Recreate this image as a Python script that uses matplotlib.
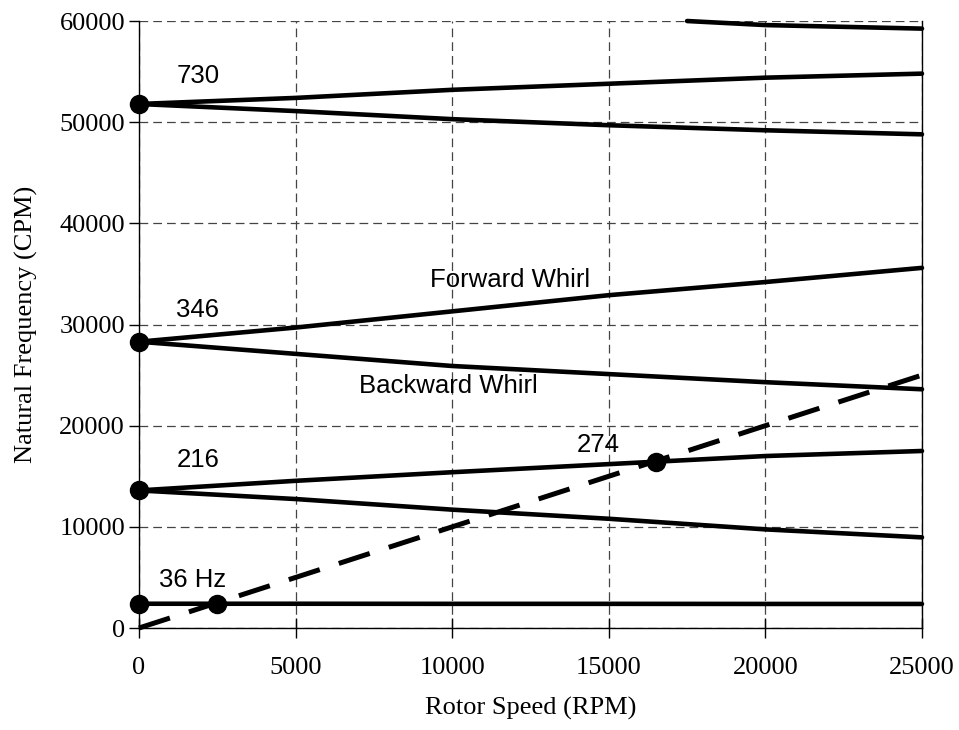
import numpy as np
import matplotlib.pyplot as plt

# rotor speed grid (RPM)
speed = [0, 5000, 10000, 15000, 20000, 25000]

# natural frequencies (CPM)
mode1 = [2400, 2400, 2390, 2390, 2380, 2380]
mode2_fw = [13600, 14550, 15400, 16200, 17000, 17500]
mode2_bw = [13600, 12750, 11700, 10800, 9750, 8960]
mode3_fw = [28300, 29700, 31300, 32900, 34200, 35600]
mode3_bw = [28300, 27100, 25900, 25100, 24300, 23600]
mode4_fw = [51800, 52400, 53200, 53800, 54400, 54800]
mode4_bw = [51800, 51100, 50300, 49700, 49200, 48800]
mode5_speed = [17500, 20000, 25000]
mode5 = [60000, 59600, 59250]

# 1x synchronous line
sync_speed = [0, 25000]
sync_freq = [0, 25000]

# critical points
crit_x = [0, 2500, 0, 16500, 0, 0]
crit_y = [2400, 2400, 13600, 16440, 28300, 51800]

labels = ["730", "346", "216", "36 Hz", "274", "Forward Whirl", "Backward Whirl"]
label_x = [1880, 1880, 1880, 1700, 14650, 11850, 9870]
label_y = [54600, 31400, 16600, 4700, 18100, 34400, 23900]

fig = plt.figure(figsize=(9.59, 7.30), dpi=100)
ax = fig.add_axes([0.1449, 0.1397, 0.9614 - 0.1449, 0.9712 - 0.1397])

lw = 3.3
for ys in [mode1, mode2_fw, mode2_bw, mode3_fw, mode3_bw, mode4_fw, mode4_bw]:
    ax.plot(speed, ys, color='black', lw=lw, solid_capstyle='round',
            solid_joinstyle='round', clip_on=False, zorder=3)
ax.plot(mode5_speed, mode5, color='black', lw=lw, solid_capstyle='round',
        solid_joinstyle='round', clip_on=False, zorder=3)

ax.plot(sync_speed, sync_freq, color='black', lw=3.6, dashes=(6.5, 4.0),
        dash_capstyle='butt', clip_on=False, zorder=3)

ax.plot(crit_x, crit_y, 'o', color='black', ms=13, clip_on=False, zorder=4)

for t, x, y in zip(labels, label_x, label_y):
    ax.text(x, y, t, ha='center', va='center', fontsize=18.5,
            family='Liberation Sans')

ax.set_xlim(0, 25000)
ax.set_ylim(0, 60000)
ax.set_xticks(np.arange(0, 25001, 5000))
ax.set_yticks(np.arange(0, 60001, 10000))

ax.grid(True, color='#444444', lw=0.9, ls=(0, (7, 4)))
ax.set_axisbelow(True)

for s in ['left', 'bottom', 'right']:
    ax.spines[s].set_color('black')
    ax.spines[s].set_linewidth(1.0)
ax.spines['top'].set_visible(False)

ax.tick_params(axis='x', direction='inout', length=14, width=1.0,
               labelsize=19, pad=14)
ax.tick_params(axis='y', direction='out', length=7, width=1.0,
               labelsize=19, pad=3)
for lab in ax.get_xticklabels() + ax.get_yticklabels():
    lab.set_family('Liberation Serif')

ax.set_xlabel('Rotor Speed (RPM)', family='Liberation Serif', fontsize=19,
              labelpad=13)
ax.set_ylabel('Natural Frequency (CPM)', family='Liberation Serif',
              fontsize=19, labelpad=15)

plt.savefig('out.png', dpi=100)
